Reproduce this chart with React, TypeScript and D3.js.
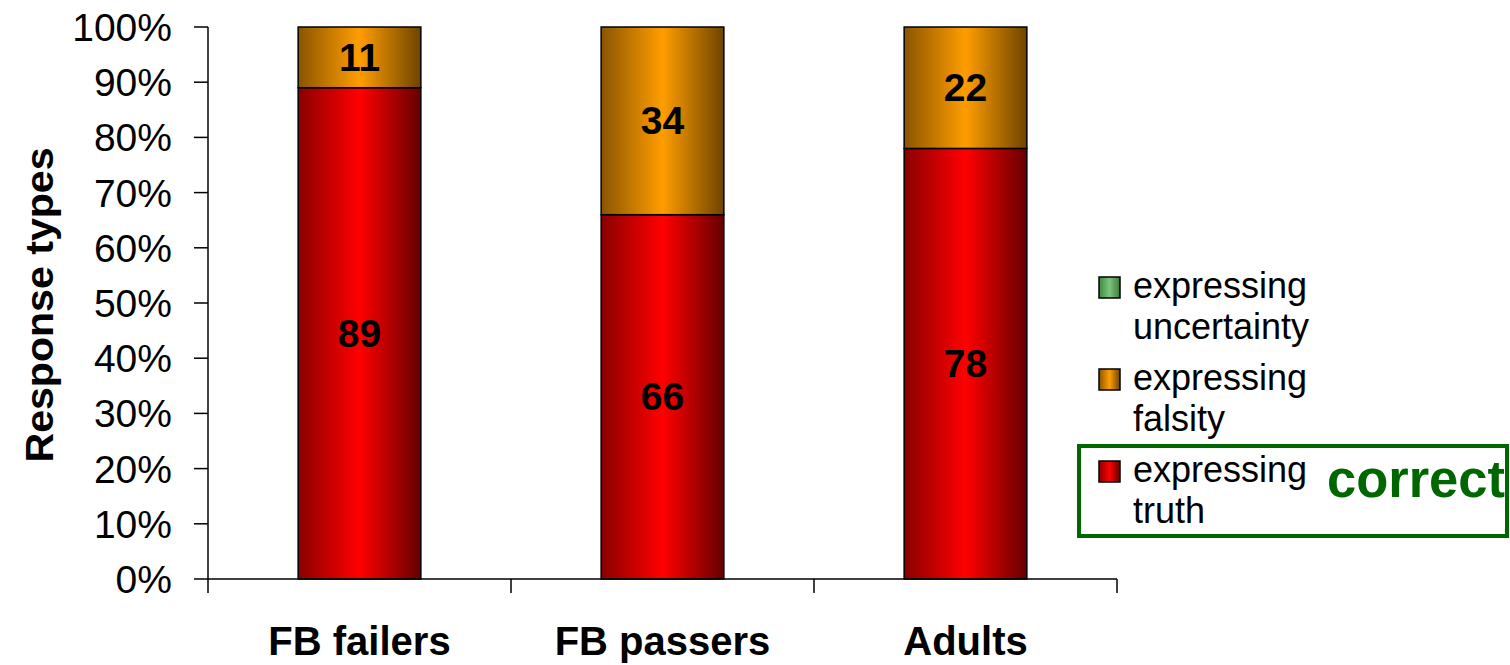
import React from "react";
import * as d3 from "d3";

const categories = ["FB failers", "FB passers", "Adults"];
const truthValues = [89, 66, 78];
const falsityValues = [11, 34, 22];
const uncertaintyValues = [0, 0, 0];
const yTicks = [0, 10, 20, 30, 40, 50, 60, 70, 80, 90, 100];
const legendItems = [
  { lines: ["expressing", "uncertainty"], grad: "gGreen" },
  { lines: ["expressing", "falsity"], grad: "gOrange" },
  { lines: ["expressing", "truth"], grad: "gRed" },
];

const W = 1510;
const H = 665;
const FONT = "'Liberation Sans', Arial, Helvetica, sans-serif";

export default function App() {
  const left = 208;
  const right = 1117;
  const top = 27;
  const bottom = 579;

  const x = d3.scaleBand<string>().domain(categories).range([left, right]).paddingInner(0).paddingOuter(0);
  const y = d3.scaleLinear().domain([0, 100]).range([bottom, top]);
  const bw = x.bandwidth() * 0.405;

  const rows = categories.map((c, i) => ({
    cat: c,
    truth: truthValues[i],
    falsity: falsityValues[i],
    uncertainty: uncertaintyValues[i],
  }));
  const stack = d3.stack<any>().keys(["truth", "falsity", "uncertainty"])(rows);
  const gradFor: Record<string, string> = { truth: "gRed", falsity: "gOrange", uncertainty: "gGreen" };

  const catTicks = [...categories.map((c) => x(c) as number), right];

  return (
    <svg width={W} height={H} style={{ display: "block", position: "absolute", left: 0, top: 0, background: "#fff" }}>
      <defs>
        <linearGradient id="gRed" x1="0" x2="1" y1="0" y2="0">
          <stop offset="0" stopColor="#8a0000" />
          <stop offset="0.5" stopColor="#ff0000" />
          <stop offset="1" stopColor="#660000" />
        </linearGradient>
        <linearGradient id="gOrange" x1="0" x2="1" y1="0" y2="0">
          <stop offset="0" stopColor="#8a5500" />
          <stop offset="0.5" stopColor="#ff9d00" />
          <stop offset="1" stopColor="#6e4400" />
        </linearGradient>
        <linearGradient id="gGreen" x1="0" x2="1" y1="0" y2="0">
          <stop offset="0" stopColor="#3e8a3e" />
          <stop offset="0.5" stopColor="#7cc47c" />
          <stop offset="1" stopColor="#3e7a3e" />
        </linearGradient>
      </defs>

      {/* bars */}
      {stack.map((layer) =>
        layer.map((d, i) => {
          const h = y(d[0]) - y(d[1]);
          if (h <= 0) return null;
          const cx = (x(categories[i]) as number) + x.bandwidth() / 2;
          return (
            <g key={layer.key + i}>
              <rect
                x={cx - bw / 2}
                y={y(d[1])}
                width={bw}
                height={h}
                fill={`url(#${gradFor[layer.key]})`}
                stroke="#000"
                strokeWidth={1.5}
              />
              <text
                x={cx}
                y={(y(d[0]) + y(d[1])) / 2}
                dy="0.35em"
                textAnchor="middle"
                fontFamily={FONT}
                fontWeight="bold"
                fontSize={39}
                fill="#000"
              >
                {d[1] - d[0]}
              </text>
            </g>
          );
        })
      )}

      {/* y axis */}
      <line x1={left} x2={left} y1={top} y2={bottom} stroke="#000" strokeWidth={1.5} />
      {yTicks.map((t) => (
        <g key={t}>
          <line x1={left - 14} x2={left} y1={y(t)} y2={y(t)} stroke="#000" strokeWidth={1.5} />
          <text
            x={172}
            y={y(t)}
            dy="0.36em"
            textAnchor="end"
            fontFamily={FONT}
            fontSize={39}
            fill="#000"
          >
            {t}%
          </text>
        </g>
      ))}

      {/* x axis */}
      <line x1={left} x2={right} y1={bottom} y2={bottom} stroke="#000" strokeWidth={1.5} />
      {catTicks.map((tx, i) => (
        <line key={i} x1={tx} x2={tx} y1={bottom} y2={bottom + 14} stroke="#000" strokeWidth={1.5} />
      ))}
      {categories.map((c) => (
        <text
          key={c}
          x={(x(c) as number) + x.bandwidth() / 2}
          y={655}
          textAnchor="middle"
          fontFamily={FONT}
          fontWeight="bold"
          fontSize={40}
          fill="#000"
        >
          {c}
        </text>
      ))}

      {/* y title */}
      <text
        transform={`translate(53,${305}) rotate(-90)`}
        textAnchor="middle"
        fontFamily={FONT}
        fontWeight="bold"
        fontSize={38}
        textLength={315}
        lengthAdjust="spacingAndGlyphs"
        fill="#000"
      >
        Response types
      </text>

      {/* legend */}
      {legendItems.map((it, i) => {
        const by = 298 + i * 92;
        return (
          <g key={i}>
            <rect x={1099} y={by - 21} width={21} height={21} fill={`url(#${it.grad})`} stroke="#000" strokeWidth={1.5} />
            {it.lines.map((ln, j) => (
              <text key={j} x={1133} y={by + j * 41} fontFamily={FONT} fontSize={36} fill="#000">
                {ln}
              </text>
            ))}
          </g>
        );
      })}

      {/* highlight box */}
      <rect x={1079} y={446} width={428} height={90} fill="none" stroke="#006600" strokeWidth={4} />
      <text x={1327} y={497} fontFamily={FONT} fontWeight="bold" fontSize={51} fill="#006600" textLength={178} lengthAdjust="spacingAndGlyphs">
        correct
      </text>
    </svg>
  );
}
